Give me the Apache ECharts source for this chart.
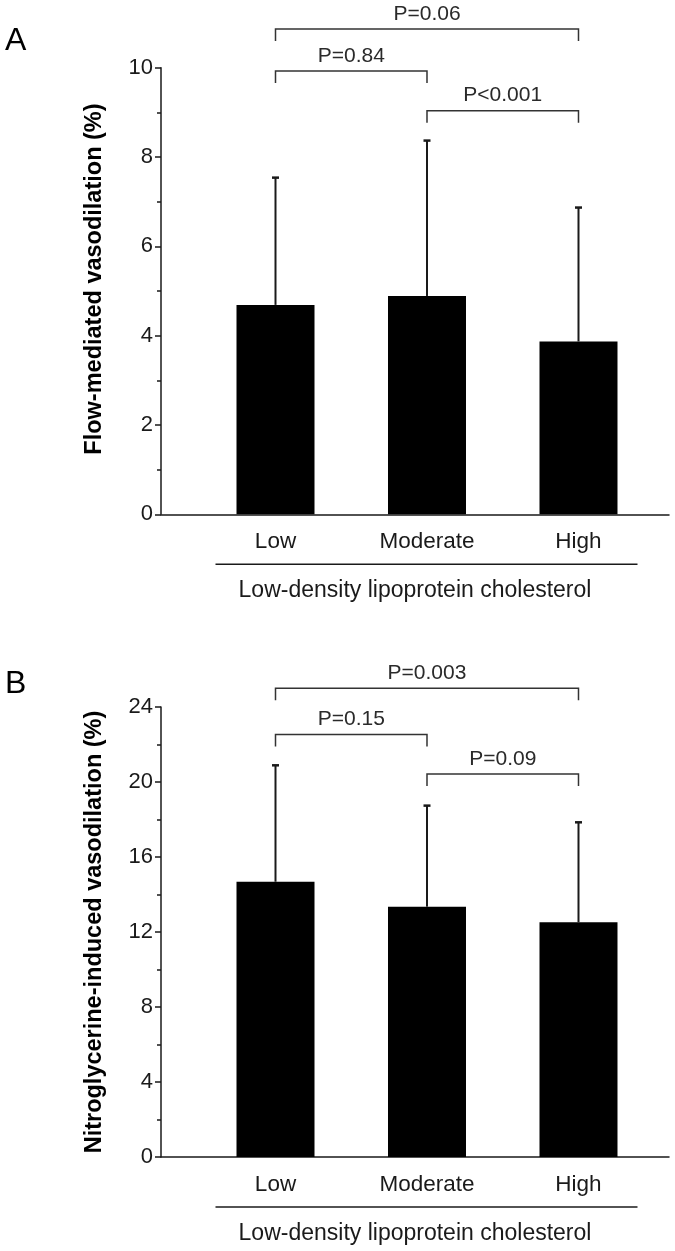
<!DOCTYPE html>
<html>
<head>
<meta charset="utf-8">
<script src="https://cdn.jsdelivr.net/npm/echarts@6/dist/echarts.min.js"></script>
<style>
html,body{margin:0;padding:0;background:#fff;}
#chart{width:675px;height:1251px;}
</style>
</head>
<body>
<div id="chart"></div>
<script>
// ---- data ----
const categories = ['Low', 'Moderate', 'High'];
const groupTitle = 'Low-density lipoprotein cholesterol';

const fmdMean = [4.69, 4.89, 3.87];
const fmdSD   = [2.85, 3.48, 3.00];
const fmdTicks = [0, 2, 4, 6, 8, 10];
// [fromCategory, toCategory, bracket level (axis units), label]
const fmdBrackets = [
  [1, 3, 10.87, 'P=0.06'],
  [1, 2, 9.93, 'P=0.84'],
  [2, 3, 9.04, 'P<0.001']
];

const ntgMean = [14.68, 13.35, 12.52];
const ntgSD   = [6.21, 5.39, 5.33];
const ntgTicks = [0, 4, 8, 12, 16, 20, 24];
const ntgBrackets = [
  [1, 3, 25.0, 'P=0.003'],
  [1, 2, 22.54, 'P=0.15'],
  [2, 3, 20.43, 'P=0.09']
];

// ---- styling ----
const FONT = "'Liberation Sans', Arial, Helvetica, sans-serif";
const INK = '#1a1a1a';
const XMIN = 0.2442, XMAX = 3.5974;

function xAxisFor(gridIndex) {
  return {
    type: 'value', gridIndex: gridIndex, min: XMIN, max: XMAX,
    splitLine: { show: false },
    axisLine: { show: true, onZero: false, lineStyle: { color: INK, width: 1.5 } },
    axisTick: { show: false },
    axisLabel: {
      customValues: categories.map((c, i) => i + 1),
      formatter: v => categories[Math.round(v) - 1] || '',
      fontSize: 22.5, fontFamily: FONT, color: INK, margin: 16
    },
    name: groupTitle, nameLocation: 'middle', nameGap: 65,
    nameTextStyle: { fontSize: 23, fontFamily: FONT, color: INK }
  };
}
function yAxisFor(gridIndex, ticks, title, shift) {
  return {
    type: 'value', gridIndex: gridIndex,
    min: ticks[0], max: ticks[ticks.length - 1], interval: ticks[1] - ticks[0],
    splitLine: { show: false },
    axisLine: { show: true, lineStyle: { color: INK, width: 1.5 } },
    axisTick: { show: true, length: 6, lineStyle: { color: INK, width: 1.5 } },
    minorTick: { show: true, splitNumber: 2, length: 4, lineStyle: { color: INK, width: 1.5 } },
    axisLabel: { fontSize: 22, fontFamily: FONT, color: INK, margin: 8 },
    name: title, nameLocation: 'middle', nameGap: 54,
    nameTextStyle: { fontSize: 23.5, fontWeight: 'bold', fontFamily: FONT, color: '#000',
      padding: [0, 0, 0, shift] }
  };
}

function barSeries(idx, means) {
  return {
    type: 'bar', xAxisIndex: idx, yAxisIndex: idx,
    data: means.map((m, i) => [i + 1, m]),
    barWidth: 78,
    itemStyle: { color: '#000' },
    silent: true
  };
}
function errSeries(idx, means, sds) {
  return {
    type: 'custom', xAxisIndex: idx, yAxisIndex: idx, clip: false, silent: true, z: 5,
    data: means.map((m, i) => [i + 1, m, m + sds[i]]),
    encode: { x: 0, y: [1, 2] },
    renderItem: function (params, api) {
      const x = api.value(0);
      const p0 = api.coord([x, api.value(1)]);
      const p1 = api.coord([x, api.value(2)]);
      return {
        type: 'group', children: [
          { type: 'line', shape: { x1: p0[0], y1: p0[1], x2: p1[0], y2: p1[1] }, style: { stroke: INK, lineWidth: 2 } },
          { type: 'line', shape: { x1: p1[0] - 3.5, y1: p1[1], x2: p1[0] + 3.5, y2: p1[1] }, style: { stroke: INK, lineWidth: 2.5 } }
        ]
      };
    }
  };
}
function bracketSeries(idx, brackets) {
  return {
    type: 'custom', xAxisIndex: idx, yAxisIndex: idx, clip: false, silent: true, z: 5,
    data: brackets.map(b => [b[0], b[1], b[2]]),
    encode: { x: [0, 1], y: 2 },
    renderItem: function (params, api) {
      const b = brackets[params.dataIndex];
      const a = api.coord([b[0], b[2]]);
      const c = api.coord([b[1], b[2]]);
      const drop = 12;
      return {
        type: 'group', children: [
          { type: 'polyline', shape: { points: [[a[0], a[1] + drop], [a[0], a[1]], [c[0], c[1]], [c[0], c[1] + drop]] },
            style: { stroke: '#333', lineWidth: 1.5, fill: null } },
          { type: 'text', style: { x: (a[0] + c[0]) / 2, y: a[1] - 15, text: b[3], align: 'center', verticalAlign: 'middle',
            font: '21px ' + FONT, fill: '#2a2a2a' } }
        ]
      };
    }
  };
}
function underlineSeries(idx) {
  return {
    type: 'custom', xAxisIndex: idx, yAxisIndex: idx, clip: false, silent: true,
    data: [[1, 3]],
    encode: { x: [0, 1] },
    renderItem: function (params, api) {
      const a = api.coord([api.value(0), 0]);
      const c = api.coord([api.value(1), 0]);
      const y = a[1] + 50;
      return { type: 'line', shape: { x1: a[0] - 60, y1: y, x2: c[0] + 59, y2: y }, style: { stroke: INK, lineWidth: 1.5 } };
    }
  };
}

const chart = echarts.init(document.getElementById('chart'), null, { renderer: 'canvas' });
chart.setOption({
  backgroundColor: '#fff',
  animation: false,
  title: [
    { text: 'A', left: 5, top: 25, padding: 0, textStyle: { fontSize: 32, fontWeight: 'normal', fontFamily: FONT, color: '#000' } },
    { text: 'B', left: 5, top: 668, padding: 0, textStyle: { fontSize: 32, fontWeight: 'normal', fontFamily: FONT, color: '#000' } }
  ],
  grid: [
    { left: 161, right: 6, top: 67.8, height: 446.5 },
    { left: 161, right: 6, top: 707, height: 450 }
  ],
  xAxis: [xAxisFor(0), xAxisFor(1)],
  yAxis: [
    yAxisFor(0, fmdTicks, 'Flow-mediated vasodilation (%)', 24),
    yAxisFor(1, ntgTicks, 'Nitroglycerine-induced vasodilation (%)', 0)
  ],
  series: [
    barSeries(0, fmdMean), errSeries(0, fmdMean, fmdSD), bracketSeries(0, fmdBrackets), underlineSeries(0),
    barSeries(1, ntgMean), errSeries(1, ntgMean, ntgSD), bracketSeries(1, ntgBrackets), underlineSeries(1)
  ]
});
</script>
</body>
</html>
